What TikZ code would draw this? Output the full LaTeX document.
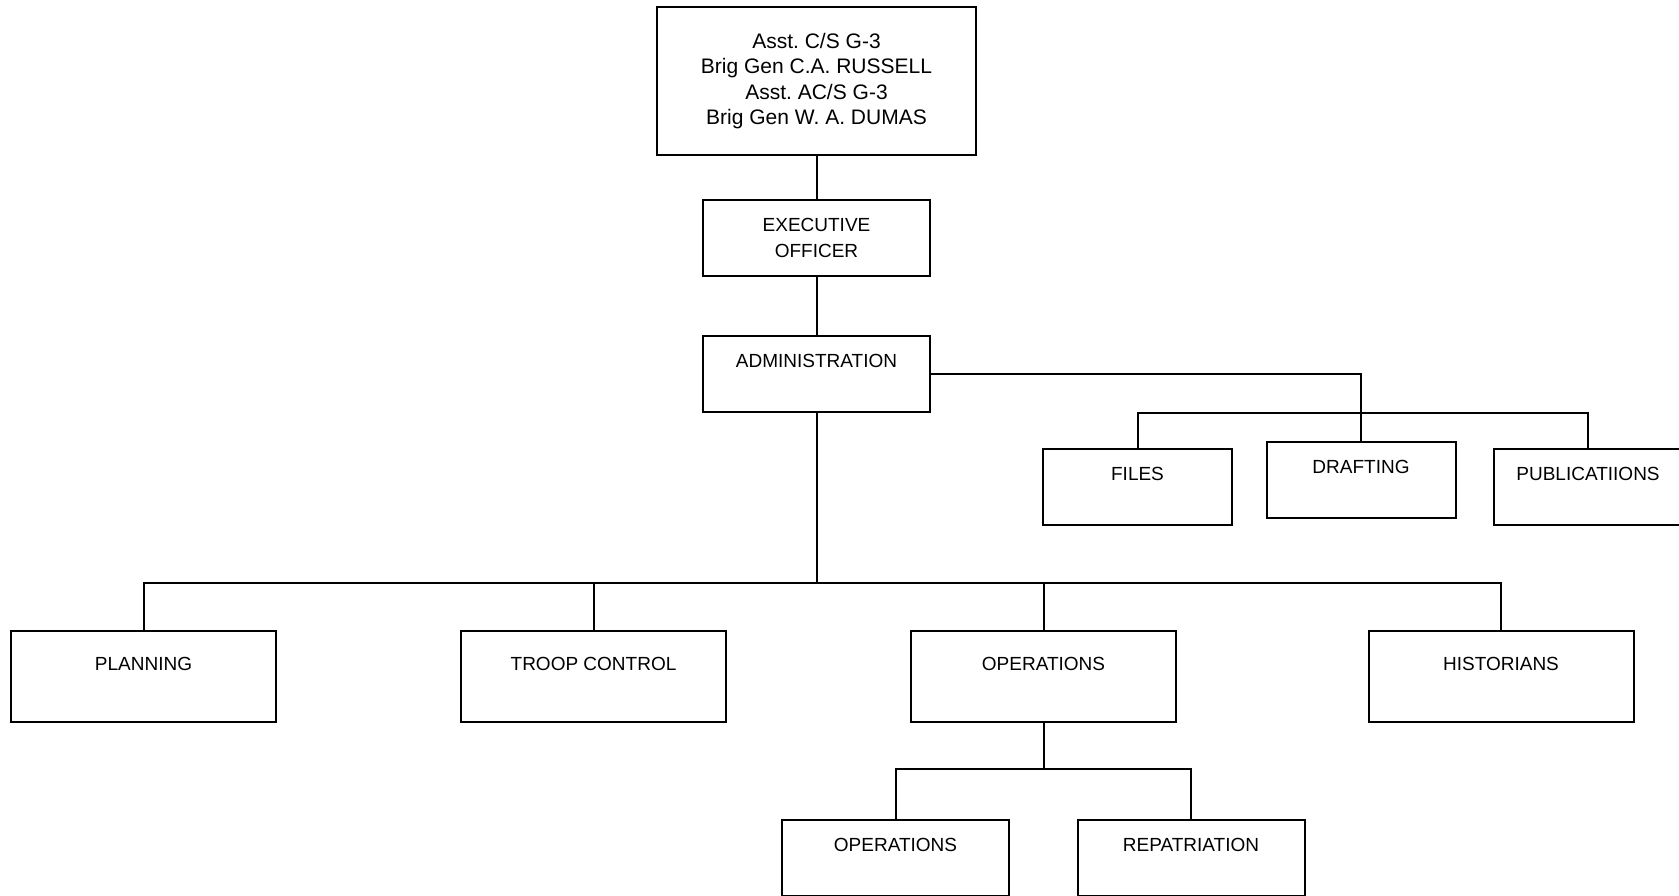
\documentclass[tikz,border=0pt]{standalone}
\usepackage{fontspec}
\setmainfont{Liberation Sans}
\usepackage{tikz}
\frenchspacing

\begin{document}
\begin{tikzpicture}[x=0.5pt,y=-0.5pt,
	box/.style={shape=rectangle,draw=black,line width=1pt,inner sep=0pt,align=center,
		font=\fontsize{9.5}{13}\selectfont},
	small/.style={box,minimum width=113.5pt,minimum height=38pt},
	tiny/.style={box,minimum width=94.5pt,minimum height=38pt},
	wide/.style={box,minimum width=132.5pt,minimum height=45.5pt},
	link/.style={-,line width=1pt,black}]
			\useasboundingbox (0,0) rectangle (1679,895);
			\node[box,minimum width=159.5pt,minimum height=74pt,font=\fontsize{10.5}{12.65}\selectfont] (chief) at (816.5,81)
				{Asst. C/S G-3\\Brig Gen C.A. RUSSELL\\Asst. AC/S G-3\\Brig Gen W. A. DUMAS};
			\node[small] (exec) at (816.5,238) {EXECUTIVE\\OFFICER};
			\node[small] (admin) at (816.5,374) {ADMINISTRATION\\\mbox{}};
			
			\node[tiny] (files) at (1137.5,487) {FILES\\\mbox{}};
			\node[tiny] (draft) at (1361,480) {DRAFTING\\\mbox{}};
			\node[tiny] (pubs) at (1588,487) {PUBLICATIIONS\\\mbox{}};
			
			\node[wide] (plan) at (143.5,676.5) {PLANNING\\\mbox{}};
			\node[wide] (troop) at (593.5,676.5) {TROOP CONTROL\\\mbox{}};
			\node[wide] (ops) at (1043.5,676.5) {OPERATIONS\\\mbox{}};
			\node[wide] (hist) at (1501,676.5) {HISTORIANS\\\mbox{}};
			
			\node[small] (opsa) at (895.5,858) {OPERATIONS\\\mbox{}};
			\node[small] (repat) at (1191,858) {REPATRIATION\\\mbox{}};
			
			\coordinate (bus) at (816.5,583);
			\coordinate (opsbus) at (1043.5,769);
			
			\path [link] (chief) edge (exec);
			\path [link] (exec) edge (admin);
			\draw [link] (admin.east) -| (draft.north);
			\draw [link] (files.north) -- (files.north |- admin.south) -| (pubs.north);
			
			\draw [link] (admin.south) -- (bus);
			\draw [link] (plan.north) |- (bus) -| (hist.north);
			\draw [link] (troop.north) -- (troop.north |- bus);
			\draw [link] (ops.north) -- (ops.north |- bus);
			
			\draw [link] (ops.south) -- (opsbus);
			\draw [link] (opsa.north) |- (opsbus) -| (repat.north);
			\end{tikzpicture}
\end{document}
